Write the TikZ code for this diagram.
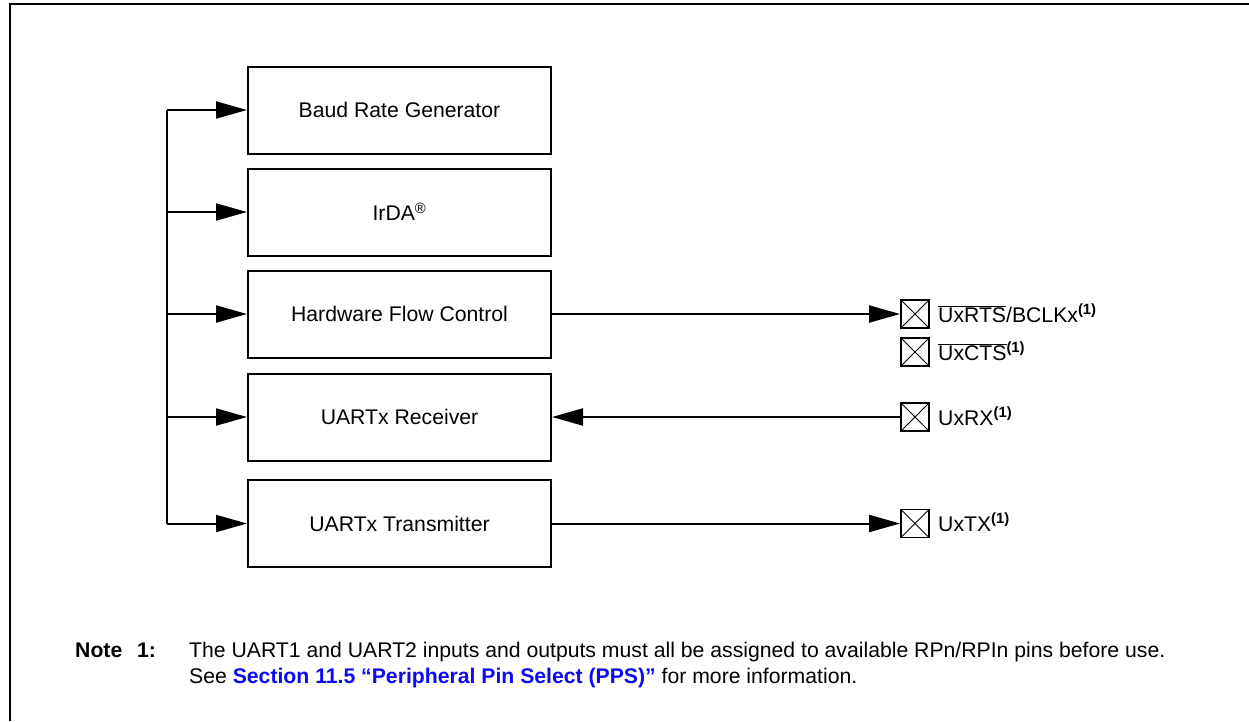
\documentclass[tikz,border=0pt]{standalone}
\usepackage{fontspec}
\setmainfont{Liberation Sans}
\usetikzlibrary{arrows.meta}
\definecolor{linkblue}{RGB}{10,10,245}
\begin{document}
\begin{tikzpicture}[x=1pt,y=-1pt,
  blk/.style={draw,line width=2pt,minimum width=303pt,minimum height=87pt,inner sep=0pt,font=\fontsize{21.2}{25}\selectfont},
  conn/.style={line width=2pt,-{Triangle[length=31pt,width=17pt]}},
  wire/.style={line width=2pt},
  pin/.style={draw,line width=1.8pt,minimum size=28pt,inner sep=0pt,
    path picture={\draw[line width=1pt] (path picture bounding box.south west)--(path picture bounding box.north east) (path picture bounding box.north west)--(path picture bounding box.south east);}},
  plabel/.style={anchor=base west,inner sep=0pt,font=\fontsize{21.2}{25}\selectfont},
  notetxt/.style={anchor=base west,inner sep=0pt,font=\fontsize{21.2}{25}\selectfont}]
\useasboundingbox (0,0) rectangle (1249,721);
\draw[line width=2pt] (9.5,721) -- (9.5,4) -- (1249,4);
% blocks
\node[blk] (b1) at (399.5,110) {Baud Rate Generator};
\node[blk] (b2) at (399.5,212) {IrDA\textsuperscript{\textregistered}};
\node[blk] (b3) at (399.5,314) {Hardware Flow Control};
\node[blk] (b4) at (399.5,417) {UARTx Receiver};
\node[blk] (b5) at (399.5,523.5) {UARTx Transmitter};
% bus
\coordinate (j1) at (167,110);
\coordinate (j2) at (167,212);
\coordinate (j3) at (167,314);
\coordinate (j4) at (167,417);
\coordinate (j5) at (167,523.5);
\draw[wire] (j1) -- (j5);
\draw[conn] (j1) -- (b1.west);
\draw[conn] (j2) -- (b2.west);
\draw[conn] (j3) -- (b3.west);
\draw[conn] (j4) -- (b4.west);
\draw[conn] (j5) -- (b5.west);
% pins
\node[pin] (p1) at (915,314) {};
\node[pin] (p2) at (915,352) {};
\node[pin] (p3) at (915,417) {};
\node[pin] (p4) at (915,523.5) {};
\draw[conn] (b3.east) -- (p1.west);
\draw[conn] (p3.west) -- (b4.east);
\draw[conn] (b5.east) -- (p4.west);
\node[plabel] (l1) at (938,322) {$\overline{\mbox{UxRTS}}$/BCLKx\textsuperscript{\bfseries (1)}};
\node[plabel] (l2) at (938,360) {$\overline{\mbox{UxCTS}}$\textsuperscript{\bfseries (1)}};
\node[plabel] (l3) at (938,425) {UxRX\textsuperscript{\bfseries (1)}};
\node[plabel] (l4) at (938,531.5) {UxTX\textsuperscript{\bfseries (1)}};
% note
\node[notetxt,font=\fontsize{21.2}{25}\selectfont\bfseries] (n1) at (75,657) {Note};
\node[notetxt,font=\fontsize{21.2}{25}\selectfont\bfseries] (n2) at (137,657) {1:};
\node[notetxt] (n3) at (189,657) {The UART1 and UART2 inputs and outputs must all be assigned to available RPn/RPIn pins before use.};
\node[notetxt] (n4) at (189,683) {See \textcolor{linkblue}{\bfseries Section 11.5 “Peripheral Pin Select (PPS)”} for more information.};
\end{tikzpicture}
\end{document}
